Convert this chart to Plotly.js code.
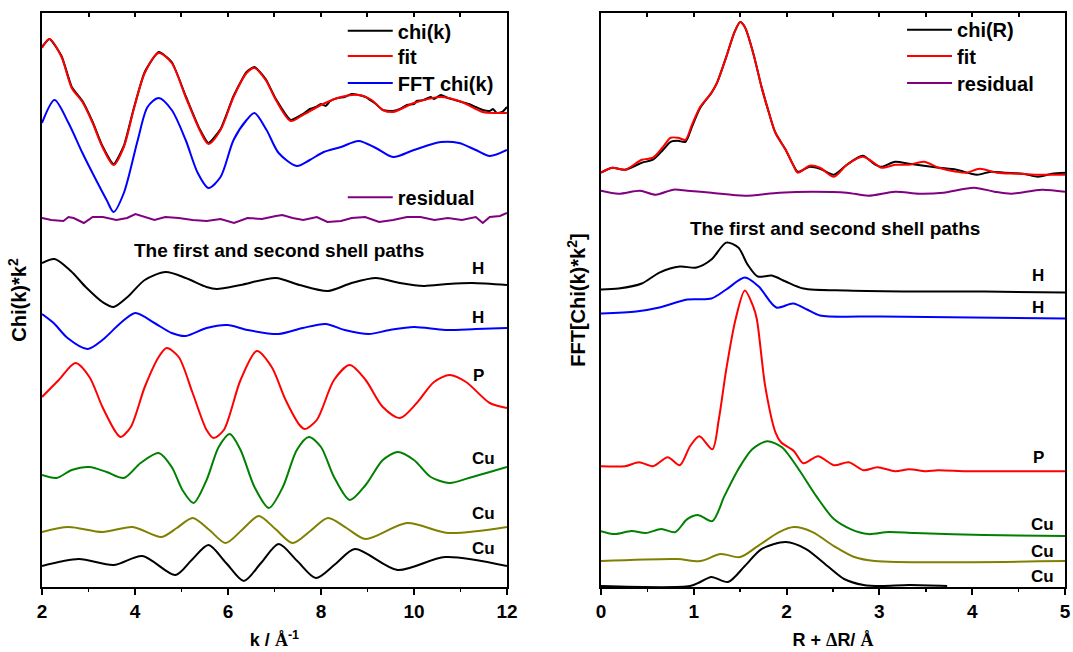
<!DOCTYPE html>
<html>
<head>
<meta charset="utf-8">
<script src="https://cdn.plot.ly/plotly-3.0.1.min.js"></script>
<style>html,body{margin:0;padding:0;background:#fff;}#chart{width:1073px;height:652px;}</style>
</head>
<body>
<div id="chart"></div>
<script>
// ---------- Left panel: k-space (arbitrary offset units) ----------
const chiK_k = [2.00,2.16,2.42,2.64,2.87,3.09,3.30,3.54,3.76,3.97,4.21,4.51,4.79,5.09,5.39,5.58,5.84,6.12,6.40,6.57,6.81,7.03,7.35,7.61,7.76,7.89,8.00,8.10,8.20,8.36,8.51,8.66,8.81,8.96,9.09,9.18,9.33,9.48,9.55,9.70,9.85,10.00,10.06,10.21,10.36,10.43,10.58,10.73,10.88,11.03,11.18,11.33,11.48,11.63,11.70,11.78,11.90,12.00];
const chiK_y = [540,548,531,500,486,465,441,423,441,478,515,535,525,491,458,444,458,491,515,520,508,488,467,473,478,480,483,481,486,489,490,493,492,490,486,483,477,476,476,478,482,483,486,487,490,488,492,489,487,485,483,480,477,476,478,474,475,480];

const fitK_k = [2.00,2.16,2.42,2.64,2.87,3.09,3.30,3.54,3.76,3.97,4.21,4.51,4.79,5.09,5.39,5.58,5.84,6.12,6.40,6.57,6.81,7.03,7.35,7.61,8.00,8.36,8.81,9.09,9.33,9.55,10.00,10.58,11.03,11.48,11.78,12.00];
const fitK_y = [539,548,530,499,485,464,440,422,440,477,514,534,524,490,457,443,457,490,514,519,507,487,466,472,482,489,492,487,477,475,484,490,485,475,474,474];

const fftK_k = [2.00,2.27,2.57,2.87,3.13,3.39,3.54,3.76,4.06,4.27,4.51,4.79,5.09,5.35,5.58,5.84,6.12,6.40,6.57,6.83,7.09,7.48,7.76,8.06,8.43,8.81,9.18,9.55,10.00,10.58,10.97,11.33,11.63,12.00];
const fftK_y = [464,487,464,434,410,387,375,394,447,480,489,477,447,414,399,410,447,467,474,457,434,421,427,435,440,446,439,430,437,445,444,437,431,437];

const resK_k = [2.00,2.20,2.46,2.57,2.68,2.90,3.09,3.31,3.60,3.83,4.01,4.20,4.42,4.65,4.94,5.24,5.54,5.84,6.13,6.42,6.73,7.03,7.17,7.39,7.62,7.91,8.14,8.43,8.66,8.95,9.25,9.55,9.85,10.14,10.44,10.73,11.03,11.33,11.48,11.63,11.85,12.00];
const resK_y = [369,367,366,370,369,364,370,370,367,369,373,370,367,370,369,367,366,368,364,369,368,371,372,369,367,370,365,366,369,370,365,367,370,370,367,369,367,370,364,370,371,374];

const h1K_k = [2.00,2.27,2.62,2.94,3.30,3.54,3.84,4.21,4.66,5.09,5.54,5.76,6.27,7.03,7.54,8.15,8.66,9.18,9.70,10.21,10.73,11.25,12.00];
const h1K_y = [324,328,316,300,285,280,290,307,315,309,300,298,302,309,302,296,304,309,304,301,303,304,302];

const h2K_k = [2.00,2.25,2.55,2.98,3.30,3.69,4.01,4.42,4.79,5.09,5.54,5.99,6.42,7.09,7.61,8.10,8.51,9.03,9.48,10.00,10.67,11.33,12.00];
const h2K_y = [273,264,249,238,247,264,274,264,254,251,259,262,257,253,259,263,257,253,257,260,257,258,259];

const pK_k = [2.00,2.36,2.72,3.02,3.30,3.60,3.69,3.91,4.21,4.51,4.68,4.94,5.24,5.54,5.69,5.91,6.27,6.62,6.94,7.24,7.54,7.65,7.91,8.28,8.62,8.96,9.33,9.70,10.06,10.43,10.77,11.12,11.63,12.00];
const pK_y = [190,207,224,210,180,154,150,160,200,230,239,230,194,157,149,157,207,236,220,187,162,158,167,207,222,207,180,169,184,205,212,205,184,179];

const cu1K_k = [2.00,2.31,2.64,3.02,3.39,3.76,4.12,4.51,4.79,5.02,5.26,5.54,5.80,6.04,6.27,6.57,6.88,7.18,7.48,7.74,8.00,8.28,8.62,8.96,9.33,9.65,10.00,10.36,10.77,11.18,11.63,12.00];
const cu1K_y = [112,109,117,120,115,109,124,134,120,97,84,107,140,153,137,100,79,100,137,150,140,110,87,102,127,135,127,110,104,109,115,120];

const cu2K_k = [2.00,2.57,3.30,3.95,4.57,4.90,5.24,5.60,5.95,6.30,6.66,7.02,7.39,7.77,8.15,8.55,8.96,9.85,10.73,12.00];
const cu2K_y = [55,60,55,60,50,59,69,57,44,57,71,58,44,56,69,59,48,64,54,60];

const cu3K_k = [2.00,2.79,3.54,4.16,4.87,5.22,5.58,5.96,6.34,6.71,7.09,7.49,7.89,8.31,8.73,9.65,10.67,12.00];
const cu3K_y = [21,28,22,31,12,27,42,24,6,24,43,26,9,23,38,17,30,21];

// ---------- Right panel: R-space ----------
const chiR_r = [0,0.12,0.26,0.44,0.56,0.67,0.75,0.83,0.91,0.98,1.07,1.19,1.25,1.35,1.44,1.50,1.55,1.64,1.73,1.81,1.88,1.99,2.07,2.12,2.25,2.36,2.51,2.65,2.82,2.94,3.02,3.17,3.32,3.48,3.64,3.83,4.05,4.20,4.35,4.55,4.71,4.86,5.00];
const chiR_y = [415,420,418,425,428,438,446,447,446,461,480,495,505,531,556,566,561,535,501,475,455,438,423,416,421,419,413,423,432,424,421,426,424,422,420,418,413,416,415,414,411,414,415];

const fitR_r = [0,0.12,0.26,0.44,0.56,0.67,0.75,0.83,0.91,0.98,1.07,1.19,1.25,1.35,1.44,1.50,1.55,1.64,1.73,1.81,1.88,1.99,2.07,2.12,2.25,2.36,2.51,2.65,2.82,2.94,3.02,3.17,3.32,3.48,3.64,3.83,3.94,4.08,4.27,4.49,4.68,4.86,5.00];
const fitR_y = [415,420,418,428,430,441,450,450,448,463,481,495,505,531,556,566,561,535,501,475,455,438,423,415,422,420,411,423,431,425,420,423,423,426,420,416,415,419,415,414,413,413,413];

const resR_r = [0,0.19,0.42,0.59,0.78,0.93,1.19,1.55,1.92,2.28,2.65,2.88,3.17,3.43,3.69,4.02,4.24,4.42,4.75,5.00];
const resR_y = [397,394,397,393,398,397,395,392,395,396,395,392,396,394,395,400,396,394,398,396];

const h1R_r = [0,0.19,0.44,0.63,0.85,1.03,1.19,1.35,1.48,1.58,1.69,1.84,1.99,2.18,2.65,3.38,4.13,5.00];
const h1R_y = [298,299,304,315,321,320,328,345,340,323,311,312,306,299,297,296,296,295];

const h2R_r = [0,0.38,0.63,0.93,1.19,1.35,1.55,1.70,1.89,2.07,2.22,2.36,3.02,5.00];
const h2R_y = [274,276,280,288,289,298,310,301,280,284,278,272,271,269];

const pR_r = [0,0.26,0.41,0.56,0.72,0.85,0.96,1.06,1.20,1.27,1.35,1.45,1.55,1.64,1.68,1.77,1.88,1.94,2.08,2.18,2.34,2.51,2.67,2.83,2.98,3.17,3.32,3.50,3.63,3.94,4.31,5.00];
const pR_y = [121,121,125,121,130,122,141,151,138,168,218,268,297,281,268,201,155,145,136,124,131,122,125,117,120,116,118,116,117,116,116,116];

const cu1R_r = [0,0.15,0.33,0.48,0.65,0.80,0.93,1.05,1.20,1.33,1.48,1.63,1.79,1.95,2.13,2.32,2.51,2.69,2.88,3.10,3.38,4.13,5.00];
const cu1R_y = [56,53,56,54,58,55,68,72,66,91,118,138,146,140,118,91,68,58,53,55,54,52,51];

const cu2R_r = [0,0.82,1.07,1.29,1.50,1.69,1.92,2.08,2.28,2.51,2.73,2.95,5.00];
const cu2R_y = [26,28,26,33,30,41,55,60,55,41,30,26,26];

const cu3R_r = [0,0.96,1.07,1.19,1.37,1.55,1.73,1.99,2.21,2.44,2.62,2.83,3.02,3.32,3.73];
const cu3R_y = [1,1,5,10,5,21,38,45,38,21,8,2,1,2,1];

// ---------- Labels ----------
const shellTitle = 'The first and second shell paths';
const leftLabels = ['H','H','P','Cu','Cu','Cu'];
const leftLabelK = [11.38,11.38,11.38,11.50,11.50,11.50];
const leftLabelY = [319,270,212,129,74,39];
const rightLabels = ['H','H','P','Cu','Cu','Cu'];
const rightLabelR = [4.71,4.71,4.71,4.76,4.76,4.76];
const rightLabelY = [312,280,130,63,36,11];

const FONT = 'Liberation Sans, Arial, sans-serif';
const SERIF = 'Liberation Serif, Times New Roman, serif';

function line(x, y, color, opts) {
  return Object.assign({
    x: x, y: y, type: 'scatter', mode: 'lines',
    line: {color: color, width: 2, shape: 'spline', smoothing: 0.8},
    showlegend: false, hoverinfo: 'skip'
  }, opts || {});
}

const traces = [
  line(chiK_k, chiK_y, '#000000', {name: 'chi(k)', showlegend: true, legend: 'legend', line:{color:'#000000', width:2, shape:'spline', smoothing:0.5}}),
  line(fitK_k, fitK_y, '#ff0000', {name: 'fit', showlegend: true, legend: 'legend4'}),
  line(fftK_k, fftK_y, '#0000ff', {name: 'FFT chi(k)', showlegend: true, legend: 'legend5'}),
  // residual drawn on the top (tick-mirroring) axis, which shares the same range as the bottom one
  line(resK_k, resK_y, '#800080', {xaxis: 'x3', yaxis: 'y', name: 'residual', showlegend: true, legend: 'legend2', line:{color:'#800080', width:2, shape:'linear'}}),
  line(h1K_k, h1K_y, '#000000'),
  line(h2K_k, h2K_y, '#0000ff'),
  line(pK_k, pK_y, '#ff0000'),
  line(cu1K_k, cu1K_y, '#008000'),
  line(cu2K_k, cu2K_y, '#808000'),
  line(cu3K_k, cu3K_y, '#000000'),

  line(chiR_r, chiR_y, '#000000', {xaxis:'x2', yaxis:'y2', name:'chi(R)', showlegend:true, legend:'legend3'}),
  line(fitR_r, fitR_y, '#ff0000', {xaxis:'x2', yaxis:'y2', name:'fit', showlegend:true, legend:'legend6'}),
  line(resR_r, resR_y, '#800080', {xaxis:'x4', yaxis:'y2', name:'residual', showlegend:true, legend:'legend7'}),
  line(h1R_r, h1R_y, '#000000', {xaxis:'x2', yaxis:'y2'}),
  line(h2R_r, h2R_y, '#0000ff', {xaxis:'x2', yaxis:'y2'}),
  line(pR_r, pR_y, '#ff0000', {xaxis:'x2', yaxis:'y2'}),
  line(cu1R_r, cu1R_y, '#008000', {xaxis:'x2', yaxis:'y2'}),
  line(cu2R_r, cu2R_y, '#808000', {xaxis:'x2', yaxis:'y2'}),
  line(cu3R_r, cu3R_y, '#000000', {xaxis:'x2', yaxis:'y2'})
];

const annotations = [];
annotations.push({xref:'x', yref:'y', x:7.09, y:337, text:shellTitle, showarrow:false, font:{family:FONT, size:19, weight:'bold', color:'#000'}});
annotations.push({xref:'x2', yref:'y2', x:2.52, y:359, text:shellTitle, showarrow:false, font:{family:FONT, size:19, weight:'bold', color:'#000'}});
leftLabels.forEach((t,i) => annotations.push({xref:'x', yref:'y', x:leftLabelK[i], y:leftLabelY[i], text:t, showarrow:false, font:{family:FONT, size:17, weight:'bold', color:'#000'}}));
rightLabels.forEach((t,i) => annotations.push({xref:'x2', yref:'y2', x:rightLabelR[i], y:rightLabelY[i], text:t, showarrow:false, font:{family:FONT, size:17, weight:'bold', color:'#000'}}));

const tickFont = {family: FONT, size: 19, weight: 'bold', color: '#000'};
const titleFont = {family: FONT, size: 18, weight: 'bold', color: '#000'};
const legFont = {family: FONT, size: 20, weight: 'bold', color: '#000'};

const leftDomain = [0, 0.4545];
const rightDomain = [0.5464, 1];

function xax(domain, range, dtick, minor, titleText) {
  return {
    domain: domain, range: range, dtick: dtick, tick0: range[0],
    ticks: 'outside', ticklen: 6, tickwidth: 2, tickcolor: '#000',
    minor: {dtick: minor, ticks: 'outside', ticklen: 3, tickwidth: 1.5, tickcolor: '#000'},
    showline: true, linewidth: 2, linecolor: '#000', mirror: true,
    showgrid: false, zeroline: false, tickfont: tickFont,
    title: {text: titleText, font: titleFont, standoff: 13}
  };
}
function topax(over, anchor, domain, range, dtick) {
  return {
    overlaying: over, anchor: anchor, side: 'top', domain: domain, range: range, dtick: dtick, tick0: range[0],
    ticks: 'inside', ticklen: 4, tickwidth: 2, tickcolor: '#000',
    showticklabels: false, showline: false, showgrid: false, zeroline: false
  };
}
function yax(anchor, range, titleText) {
  return {
    anchor: anchor, domain: [0, 1], range: range,
    showticklabels: false, ticks: '',
    showline: true, linewidth: 2, linecolor: '#000', mirror: true,
    showgrid: false, zeroline: false,
    title: {text: titleText, font: {family: FONT, size: 20, weight: 'bold', color: '#000'}, standoff: 8}
  };
}
function leg(x, y) {
  return {x: x, y: y, xanchor: 'left', yanchor: 'top', bgcolor: 'rgba(0,0,0,0)', font: legFont, itemwidth: 45};
}

const layout = {
  width: 1073, height: 652,
  margin: {l: 42, r: 8, t: 13, b: 65},
  paper_bgcolor: '#ffffff', plot_bgcolor: '#ffffff',
  font: {family: FONT, color: '#000'},
  xaxis: xax(leftDomain, [2, 12], 2, 1, 'k / <span style="font-family:' + SERIF + '">Å</span><sup>-1</sup>'),
  xaxis2: xax(rightDomain, [0, 5], 1, 0.5, 'R + <span style="font-family:' + SERIF + '">Δ</span>R/ <span style="font-family:' + SERIF + '">Å</span>'),
  xaxis3: topax('x', 'y', leftDomain, [2, 12], 1),
  xaxis4: topax('x2', 'y2', rightDomain, [0, 5], 0.5),
  yaxis: yax('x', [0, 574], 'Chi(k)*k<sup>2</sup>'),
  yaxis2: yax('x2', [0, 575], 'FFT[Chi(k)*k<sup>2</sup>]'),
  legend: leg(0.294, 1.003),
  legend4: leg(0.294, 0.959),
  legend5: leg(0.294, 0.912),
  legend2: leg(0.294, 0.713),
  legend3: leg(0.8407, 1.005),
  legend6: leg(0.8407, 0.959),
  legend7: leg(0.8407, 0.912),
  annotations: annotations
};

Plotly.newPlot('chart', traces, layout, {displayModeBar: false, staticPlot: true});
</script>
</body>
</html>
